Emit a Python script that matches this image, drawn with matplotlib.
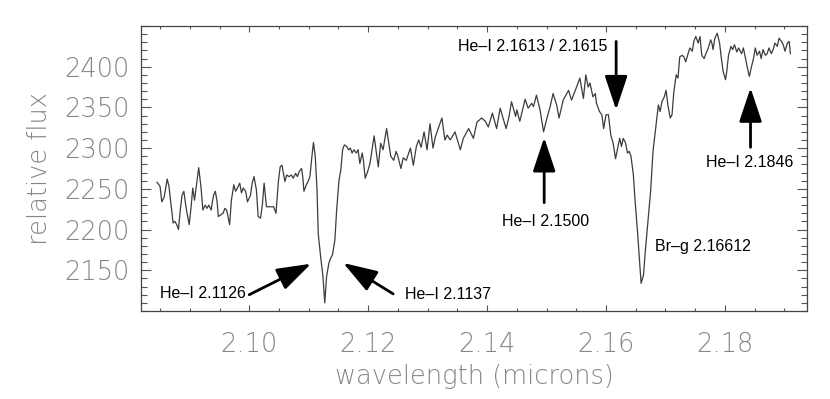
"""K-band spectrum with He-I and Br-gamma absorption lines marked."""

import matplotlib
matplotlib.use("Agg")  # headless
import matplotlib.pyplot as plt
import numpy as np
from matplotlib.ticker import FixedLocator, MultipleLocator

# spectrum, three stretches joined end to end
WAVE_A = [2.0845, 2.0850, 2.0853, 2.0857, 2.0862, 2.0865, 2.0868, 2.0872, 2.0875, 2.0878,
          2.0881, 2.0884, 2.0887, 2.0890, 2.0894, 2.0899, 2.0902, 2.0905, 2.0908, 2.0911,
          2.0915, 2.0919, 2.0922, 2.0926, 2.0929, 2.0932, 2.0936, 2.0938, 2.0940, 2.0943,
          2.0946, 2.0948, 2.0952, 2.0956, 2.0959, 2.0962, 2.0967, 2.0970, 2.0974, 2.0977,
          2.0980, 2.0984, 2.0987, 2.0990, 2.0994, 2.0997, 2.1002, 2.1005, 2.1008, 2.1012,
          2.1015, 2.1019, 2.1022, 2.1025, 2.1029, 2.1033, 2.1036, 2.1041, 2.1045, 2.1049,
          2.1052, 2.1055, 2.1060, 2.1063, 2.1067, 2.1071, 2.1074, 2.1078, 2.1081, 2.1084,
          2.1088, 2.1090, 2.1092, 2.1096, 2.1099, 2.1102, 2.1106, 2.1108, 2.1111, 2.1114,
          2.1116, 2.1120, 2.1124, 2.1127, 2.1130, 2.1134, 2.1137, 2.1140, 2.1144, 2.1147,
          2.1151, 2.1154, 2.1157, 2.1160, 2.1164, 2.1167, 2.1170, 2.1173, 2.1176, 2.1180,
          2.1183, 2.1186, 2.1190, 2.1192, 2.1195, 2.1199, 2.1203]
FLUX_A = [2258, 2253, 2234, 2240, 2262, 2253, 2234, 2208, 2210, 2206,
          2200, 2224, 2242, 2247, 2226, 2206, 2226, 2251, 2236, 2253,
          2276, 2251, 2224, 2230, 2226, 2230, 2224, 2234, 2242, 2247,
          2234, 2216, 2218, 2220, 2226, 2224, 2206, 2236, 2255, 2247,
          2251, 2257, 2245, 2251, 2247, 2234, 2242, 2257, 2265, 2249,
          2216, 2214, 2230, 2257, 2228, 2228, 2228, 2228, 2220, 2259,
          2277, 2279, 2259, 2267, 2265, 2267, 2263, 2269, 2265, 2271,
          2275, 2265, 2247, 2255, 2259, 2265, 2294, 2307, 2290, 2249,
          2195, 2167, 2142, 2110, 2142, 2159, 2165, 2169, 2187, 2224,
          2261, 2273, 2298, 2304, 2302, 2298, 2300, 2294, 2298, 2294,
          2298, 2281, 2294, 2285, 2263, 2271, 2281]

WAVE_B = [2.1210, 2.1217, 2.1221, 2.1225, 2.1231, 2.1238, 2.1243, 2.1247, 2.1250, 2.1255,
          2.1259, 2.1264, 2.1271, 2.1276, 2.1281, 2.1285, 2.1289, 2.1294, 2.1299, 2.1304,
          2.1309, 2.1313, 2.1324, 2.1329, 2.1333, 2.1338, 2.1346, 2.1355, 2.1360, 2.1369,
          2.1377, 2.1383, 2.1391, 2.1397, 2.1402, 2.1409, 2.1416, 2.1422, 2.1432, 2.1437,
          2.1441, 2.1448, 2.1450, 2.1455, 2.1461, 2.1464, 2.1469, 2.1475, 2.1478, 2.1483,
          2.1489, 2.1495, 2.1500, 2.1506, 2.1511, 2.1517, 2.1521, 2.1528, 2.1537, 2.1542,
          2.1551]
FLUX_B = [2315, 2277, 2306, 2298, 2324, 2290, 2285, 2296, 2290, 2275,
          2288, 2285, 2300, 2279, 2302, 2310, 2301, 2320, 2298, 2330,
          2300, 2314, 2337, 2310, 2316, 2310, 2320, 2298, 2312, 2324,
          2312, 2332, 2337, 2333, 2326, 2343, 2324, 2349, 2324, 2339,
          2357, 2339, 2347, 2333, 2351, 2360, 2349, 2355, 2351, 2365,
          2347, 2320, 2335, 2351, 2367, 2353, 2337, 2359, 2371, 2359,
          2376]

WAVE_C = [2.1556, 2.1562, 2.1566, 2.1570, 2.1573, 2.1578, 2.1582, 2.1584, 2.1589, 2.1593,
          2.1596, 2.1600, 2.1604, 2.1608, 2.1612, 2.1616, 2.1619, 2.1623, 2.1626, 2.1629,
          2.1633, 2.1636, 2.1639, 2.1642, 2.1646, 2.1649, 2.1653, 2.1656, 2.1659, 2.1663,
          2.1666, 2.1671, 2.1675, 2.1679, 2.1684, 2.1688, 2.1691, 2.1694, 2.1698, 2.1701,
          2.1704, 2.1708, 2.1711, 2.1714, 2.1718, 2.1721, 2.1724, 2.1728, 2.1731, 2.1734,
          2.1738, 2.1741, 2.1745, 2.1748, 2.1751, 2.1755, 2.1758, 2.1761, 2.1765, 2.1768,
          2.1772, 2.1776, 2.1778, 2.1780, 2.1783, 2.1787, 2.1791, 2.1794, 2.1797, 2.1801,
          2.1803, 2.1806, 2.1810, 2.1813, 2.1816, 2.1820, 2.1823, 2.1828, 2.1831, 2.1834,
          2.1838, 2.1841, 2.1844, 2.1848, 2.1851, 2.1854, 2.1858, 2.1861, 2.1864, 2.1868,
          2.1871, 2.1874, 2.1878, 2.1881, 2.1884, 2.1888, 2.1891, 2.1895, 2.1898, 2.1901,
          2.1905, 2.1908, 2.1910]
FLUX_C = [2386, 2361, 2390, 2375, 2380, 2363, 2367, 2355, 2345, 2341,
          2324, 2341, 2341, 2316, 2306, 2287, 2298, 2312, 2302, 2312,
          2306, 2294, 2296, 2290, 2267, 2234, 2197, 2165, 2134, 2144,
          2173, 2214, 2247, 2296, 2328, 2353, 2345, 2357, 2363, 2371,
          2353, 2337, 2341, 2369, 2390, 2386, 2412, 2414, 2412, 2406,
          2416, 2423, 2419, 2432, 2437, 2429, 2437, 2414, 2410, 2416,
          2423, 2433, 2429, 2421, 2435, 2441, 2429, 2410, 2394, 2384,
          2394, 2414, 2425, 2421, 2427, 2418, 2423, 2416, 2423, 2412,
          2398, 2388, 2398, 2410, 2423, 2414, 2419, 2410, 2421, 2414,
          2416, 2423, 2416, 2421, 2429, 2425, 2435, 2431, 2427, 2419,
          2429, 2431, 2416]

Y_TICKS = [2150, 2200, 2250, 2300, 2350, 2400]
X_TICKS = [2.10, 2.12, 2.14, 2.16, 2.18]

LINE_LABELS = ["He–I 2.1126", "He–I 2.1137", "He–I 2.1613 / 2.1615",
               "He–I 2.1500", "Br–g 2.16612", "He–I 2.1846"]

wave = np.concatenate([WAVE_A, WAVE_B, WAVE_C])
flux = np.concatenate([FLUX_A, FLUX_B, FLUX_C])

GREY = "#868686"
AXFONT = dict(family="DejaVu Sans", weight="light", color=GREY, fontsize=18.5)

fig = plt.figure(figsize=(8.3, 3.99), dpi=100)
ax = fig.add_axes([0.1699, 0.2206, 0.8024, 0.7143])
ax.plot(wave, flux, color="#3c3c3c", lw=0.9)

ax.set_xlim(2.0818, 2.1938)
ax.set_ylim(2100, 2450)
ax.xaxis.set_major_locator(FixedLocator(X_TICKS))
ax.xaxis.set_minor_locator(MultipleLocator(0.005))
ax.yaxis.set_major_locator(FixedLocator(Y_TICKS))
ax.yaxis.set_minor_locator(MultipleLocator(10))
ax.xaxis.set_major_formatter(lambda v, p: f"{v:.2f}")
ax.yaxis.set_major_formatter(lambda v, p: f"{v:.0f}")
ax.tick_params(which="both", direction="in", top=True, right=True, color="#555555", width=0.8)
ax.tick_params(axis="x", which="major", length=4.5, pad=15)
ax.tick_params(axis="x", which="minor", length=2)
ax.tick_params(axis="y", which="major", length=7, pad=8)
ax.tick_params(axis="y", which="minor", length=4)
for lab in ax.get_xticklabels() + ax.get_yticklabels():
    lab.set(**AXFONT)
for s in ax.spines.values():
    s.set_color("#444444")
    s.set_linewidth(0.9)

ax.set_xlabel("wavelength (microns)", labelpad=5, **AXFONT)
ax.set_ylabel("relative flux", labelpad=9, **AXFONT)

# line markers: (text xy, text alignment, arrow tail, arrow tip)
TXT = dict(family="Liberation Sans", fontsize=11.5, color="black", va="center")
ARW = dict(arrowstyle="-|>,head_length=2.1,head_width=0.7", mutation_scale=10,
           lw=2.0, color="black", shrinkA=0, shrinkB=0)
marks = [
    ((2.0850, 2122), "left", (2.1000, 2120), (2.1104, 2158)),
    ((2.1262, 2120), "left", (2.1242, 2121), (2.1158, 2159)),
    ((2.1602, 2425), "right", (2.1617, 2431), (2.1617, 2347)),
    ((2.1499, 2210), "center", (2.1496, 2233), (2.1496, 2313)),
    ((2.1682, 2179), "left", None, None),
    ((2.1841, 2282), "center", (2.1843, 2301), (2.1843, 2374)),
]
for label, (txy, ha, tail, tip) in zip(LINE_LABELS, marks):
    ax.text(*txy, label, ha=ha, **TXT)
    if tail is not None:
        ax.annotate("", xy=tip, xytext=tail, arrowprops=ARW)

fig.savefig("out.png", dpi=100)
